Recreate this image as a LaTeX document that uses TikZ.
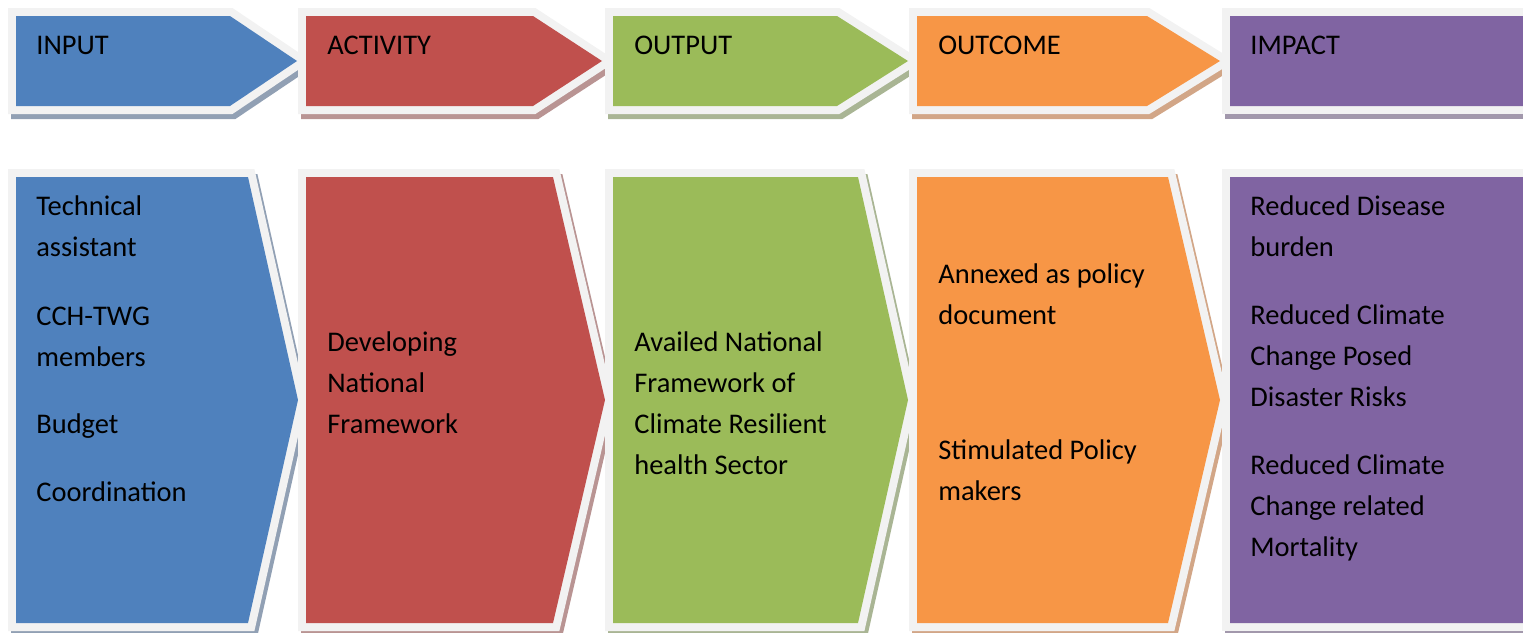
\documentclass[tikz,border=0pt]{standalone}
\usepackage{fontspec}
\setmainfont{Carlito}
\usepackage{tikz}

\definecolor{rimgray}{RGB}{242,242,242}
\definecolor{inputblue}{RGB}{79,129,189}
\definecolor{activityred}{RGB}{192,80,77}
\definecolor{outputgreen}{RGB}{155,187,89}
\definecolor{outcomeorange}{RGB}{247,150,70}
\definecolor{impactpurple}{RGB}{128,100,162}
\definecolor{inputshade}{RGB}{145,160,180}
\definecolor{activityshade}{RGB}{185,148,147}
\definecolor{outputshade}{RGB}{169,181,148}
\definecolor{outcomeshade}{RGB}{210,166,135}
\definecolor{impactshade}{RGB}{162,152,172}

% left x, corner x, tip x, top y, bottom y, fill, shadow
\newcommand{\stageshape}[7]{%
  \path[rim, draw=#7, fill=#7, shift={(3,5)}] (#1,#4) -- (#2,#4) -- (#3,{(#4+#5)/2}) -- (#2,#5) -- (#1,#5) -- cycle;
  \path[rim, draw=rimgray] (#1,#4) -- (#2,#4) -- (#3,{(#4+#5)/2}) -- (#2,#5) -- (#1,#5) -- cycle;
  \fill[#6] (#1,#4) -- (#2,#4) -- (#3,{(#4+#5)/2}) -- (#2,#5) -- (#1,#5) -- cycle;
}

\begin{document}
\begin{tikzpicture}[x=0.02cm, y=-0.02cm,
    rim/.style={line width=0.32cm, line join=miter, miter limit=1.5},
    stagetext/.style={anchor=base west, align=left, inner sep=0pt, text=black,
      font=\fontsize{16.2}{23.3}\selectfont}]

      % Variables
      \def \headtop {16}
      \def \headbot {106}
      \def \bodytop {177}
      \def \bodybot {623}

      \useasboundingbox (0,0) rectangle (1523,632);
      \clip (0,0) rectangle (1523,632);

      % Header chevrons
      \stageshape{16}{230}{297}{\headtop}{\headbot}{inputblue}{inputshade}
      \stageshape{306}{533}{602}{\headtop}{\headbot}{activityred}{activityshade}
      \stageshape{613}{837}{908}{\headtop}{\headbot}{outputgreen}{outputshade}
      \stageshape{917}{1147}{1220}{\headtop}{\headbot}{outcomeorange}{outcomeshade}
      \stageshape{1230}{1545}{1545}{\headtop}{\headbot}{impactpurple}{impactshade}

      % Body chevrons
      \stageshape{16}{248}{298}{\bodytop}{\bodybot}{inputblue}{inputshade}
      \stageshape{306}{553}{605}{\bodytop}{\bodybot}{activityred}{activityshade}
      \stageshape{613}{858}{908}{\bodytop}{\bodybot}{outputgreen}{outputshade}
      \stageshape{917}{1168}{1220}{\bodytop}{\bodybot}{outcomeorange}{outcomeshade}
      \stageshape{1230}{1545}{1545}{\bodytop}{\bodybot}{impactpurple}{impactshade}

      % Header labels
      \node[stagetext] (inputhead) at (36,54) {INPUT};
      \node[stagetext] (activityhead) at (327,54) {ACTIVITY};
      \node[stagetext] (outputhead) at (634,54) {OUTPUT};
      \node[stagetext] (outcomehead) at (938,54) {OUTCOME};
      \node[stagetext] (impacthead) at (1250,54) {IMPACT};

      % Input (placed at the last line's baseline)
      \node[stagetext] (inputa) at (36,256) {Technical\\assistant};
      \node[stagetext] (inputb) at (36,366) {CCH-TWG\\members};
      \node[stagetext] (inputc) at (36,433) {Budget};
      \node[stagetext] (inputd) at (36,501) {Coordination};

      % Activity
      \node[stagetext] (activitya) at (327,433) {Developing\\National\\Framework};

      % Output
      \node[stagetext] (outputa) at (634,474) {Availed National\\Framework of\\Climate Resilient\\health Sector};

      % Outcome
      \node[stagetext] (outcomea) at (938,324) {Annexed as policy\\document};
      \node[stagetext] (outcomeb) at (938,500) {Stimulated Policy\\makers};

      % Impact
      \node[stagetext] (impacta) at (1250,256) {Reduced Disease\\burden};
      \node[stagetext] (impactb) at (1250,406) {Reduced Climate\\Change Posed\\Disaster Risks};
      \node[stagetext] (impactc) at (1250,556) {Reduced Climate\\Change related\\Mortality};

    \end{tikzpicture}
\end{document}
